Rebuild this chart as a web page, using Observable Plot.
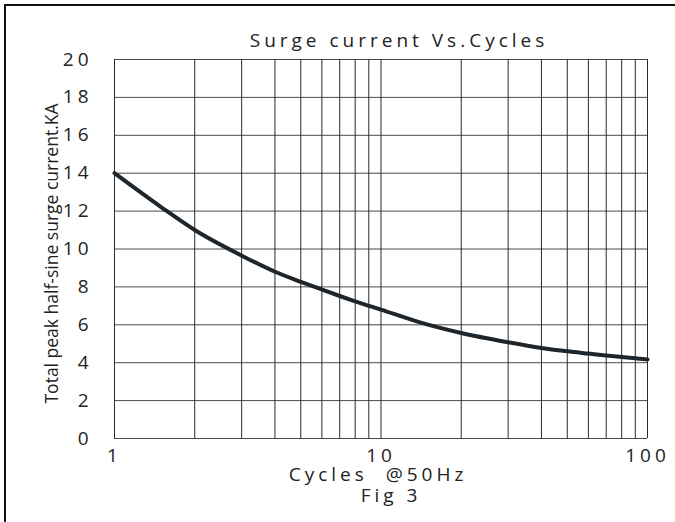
<!DOCTYPE html>
<html>
<head>
<meta charset="utf-8">
<script src="https://cdn.jsdelivr.net/npm/d3@7"></script>
<script src="https://cdn.jsdelivr.net/npm/@observablehq/plot@0.6"></script>
<style>
  html, body { margin: 0; padding: 0; background: #fff; }
  #chart { position: relative; width: 675px; height: 522px; }
</style>
</head>
<body>
<div id="chart"></div>
<script>
// ---- data ----
const cycles  = [1, 1.5, 2, 3, 4, 5, 6, 7, 8, 10, 14, 20, 30, 40, 50, 60, 70, 80, 90, 100];
const surgeKA = [14.0, 12.2, 11.0, 9.65, 8.8, 8.27, 7.86, 7.52, 7.24, 6.8, 6.13, 5.57, 5.08, 4.78, 4.6, 4.48, 4.38, 4.3, 4.23, 4.17];
const xGrid = [1, 2, 3, 4, 5, 6, 7, 8, 9, 10, 20, 30, 40, 50, 60, 70, 80, 90, 100];
const yGrid = [0, 2, 4, 6, 8, 10, 12, 14, 16, 18, 20];
const xTicks = [1, 10, 100];
const yTicks = [0, 2, 4, 6, 8, 10, 12, 14, 16, 18, 20];
const titleText = "Surge current Vs.Cycles";
const xLabel = "Cycles  @50Hz";
const figLabel = "Fig 3";
const yLabel = "Total peak half-sine surge current.KA";

const data = cycles.map((c, i) => ({x: c, y: surgeKA[i]}));

const font = "'Open Sans', 'DejaVu Sans', sans-serif";

const chart = Plot.plot({
  width: 675,
  height: 522,
  marginLeft: 114,
  marginRight: 28,
  marginTop: 59,
  marginBottom: 84,
  style: {fontFamily: font, color: "#222", background: "transparent"},
  x: {type: "log", domain: [1, 100], axis: null},
  y: {domain: [0, 20], axis: null},
  marks: [
    Plot.ruleY(yGrid, {stroke: "#4a4a4a", strokeWidth: 1}),
    Plot.ruleX(xGrid, {stroke: "#2a2a2a", strokeWidth: 1}),
    Plot.line(data, {x: "x", y: "y", stroke: "#1f262b", strokeWidth: 4, curve: "monotone-x"}),
    Plot.axisY({ticks: yTicks, tickSize: 0, tickPadding: 22, fontSize: 19, label: null, tickFormat: d => String(d)}),
    Plot.axisX({ticks: xTicks, tickSize: 0, tickPadding: 10, fontSize: 19, label: null, tickFormat: d => String(d)}),
    Plot.text([titleText], {text: d => d, frameAnchor: "top", lineAnchor: "middle", dy: -19, dx: 18, fontSize: 19}),
    Plot.text([xLabel], {text: d => d, frameAnchor: "bottom", lineAnchor: "middle", dy: 36, dx: -3, fontSize: 19}),
    Plot.text([figLabel], {text: d => d, frameAnchor: "bottom", lineAnchor: "middle", dy: 57, dx: 10, fontSize: 19}),
    Plot.text([yLabel], {text: d => d, frameAnchor: "left", textAnchor: "middle", lineAnchor: "middle", rotate: -90, dx: -62, dy: 4.5, fontSize: 17.5})
  ]
});

const svg = d3.select(chart);
svg.selectAll("text")
  .filter(function() { return this.textContent !== yLabel; })
  .style("letter-spacing", "4px");
// outer frame (top and left edges of the figure border)
svg.append("path")
  .attr("d", "M5,522V5H675")
  .attr("fill", "none")
  .attr("stroke", "#111")
  .attr("stroke-width", 2);

document.getElementById("chart").appendChild(chart);
</script>
</body>
</html>
